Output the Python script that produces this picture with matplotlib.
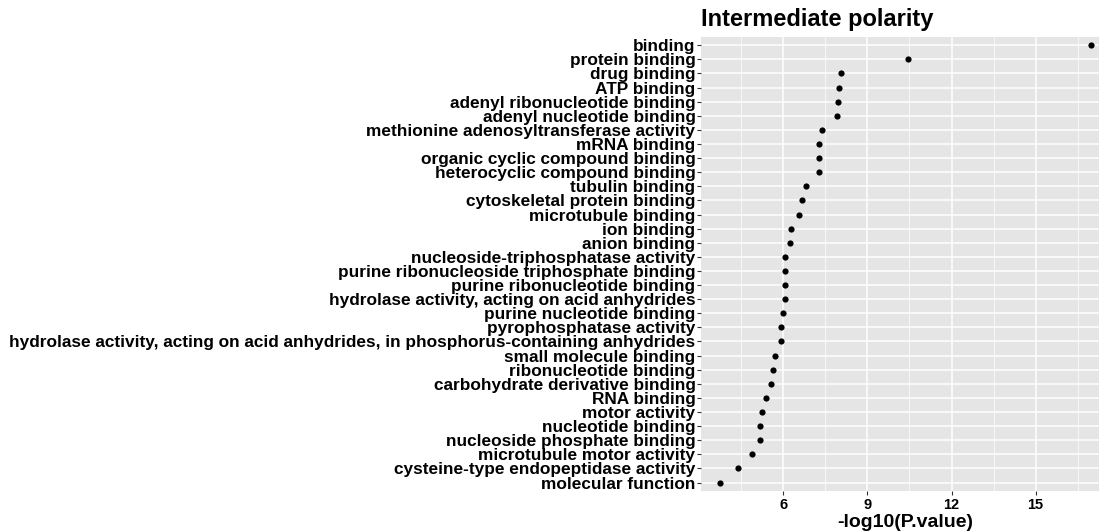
import matplotlib
matplotlib.use("Agg")
import matplotlib.pyplot as plt
from matplotlib.ticker import MultipleLocator

# GO terms, top to bottom
terms = [
    "binding", "protein binding", "drug binding", "ATP binding",
    "adenyl ribonucleotide binding", "adenyl nucleotide binding",
    "methionine adenosyltransferase activity", "mRNA binding",
    "organic cyclic compound binding", "heterocyclic compound binding",
    "tubulin binding", "cytoskeletal protein binding", "microtubule binding",
    "ion binding", "anion binding", "nucleoside-triphosphatase activity",
    "purine ribonucleoside triphosphate binding", "purine ribonucleotide binding",
    "hydrolase activity, acting on acid anhydrides", "purine nucleotide binding",
    "pyrophosphatase activity",
    "hydrolase activity, acting on acid anhydrides, in phosphorus-containing anhydrides",
    "small molecule binding", "ribonucleotide binding",
    "carbohydrate derivative binding", "RNA binding", "motor activity",
    "nucleotide binding", "nucleoside phosphate binding",
    "microtubule motor activity", "cysteine-type endopeptidase activity",
    "molecular function",
]
neglogp = [
    16.97, 10.45, 8.07, 8.00, 7.96, 7.91, 7.38, 7.29, 7.27, 7.27,
    6.82, 6.68, 6.57, 6.26, 6.24, 6.08, 6.08, 6.07, 6.05, 5.99,
    5.92, 5.93, 5.70, 5.62, 5.58, 5.39, 5.26, 5.16, 5.16, 4.87,
    4.37, 3.73,
]
xticks = [6, 9, 12, 15]

plt.rcParams["font.family"] = ["Liberation Sans", "DejaVu Sans"]

fig = plt.figure(figsize=(10.99, 5.31), dpi=100)
ax = fig.add_axes([701 / 1099, 1 - 491 / 531, 408.5 / 1099, (491 - 36.8) / 531])
ax.set_facecolor("#E5E5E5")

ypos = list(range(len(terms)))[::-1]
ax.scatter(neglogp, ypos, s=20, color="black", zorder=3, linewidths=0)

lo, hi = min(neglogp), max(neglogp)
pad = (hi - lo) * 0.05
ax.set_xlim(lo - pad, hi + pad)
ax.set_ylim(-0.6, len(terms) - 1 + 0.6)

ax.set_xticks(xticks)
ax.xaxis.set_minor_locator(MultipleLocator(1.5))
ax.set_yticks(ypos)
ax.set_yticklabels(terms)

ax.grid(True, which="major", color="white", linewidth=1.1, zorder=0)
ax.grid(True, which="minor", axis="x", color="white", linewidth=0.5, zorder=0)
ax.set_axisbelow(True)
for s in ax.spines.values():
    s.set_visible(False)

ax.tick_params(axis="both", which="major", length=3, color="#333333", width=0.8)
ax.tick_params(axis="x", which="minor", length=0)
ax.tick_params(axis="y", labelsize=12.4, pad=1)
ax.tick_params(axis="x", labelsize=10.5, pad=2)
for lab in ax.get_yticklabels() + ax.get_xticklabels():
    lab.set_fontweight("bold")
    lab.set_color("black")

ax.set_xlabel("-log10(P.value)", fontsize=14, fontweight="bold", labelpad=1.5)
ax.set_title("Intermediate polarity", fontsize=17, fontweight="bold",
             loc="left", pad=8)

fig.savefig("out.png", dpi=100)
